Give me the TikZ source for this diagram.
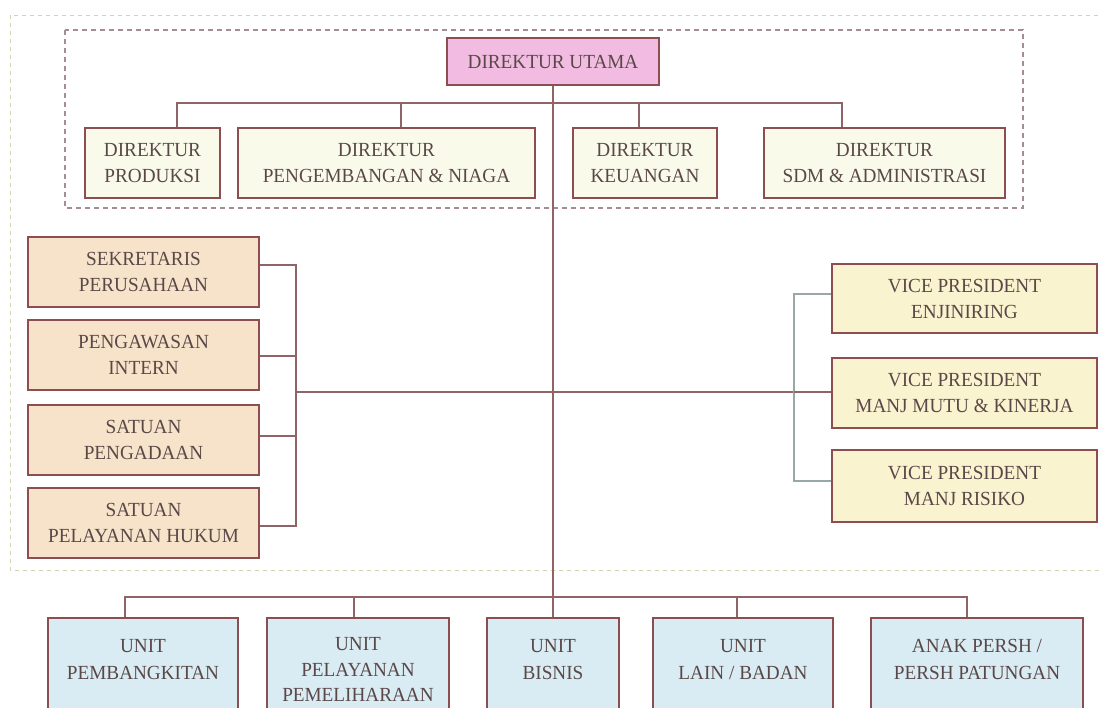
\documentclass[tikz,border=0pt]{standalone}
\usepackage{fontspec}
\setmainfont{Liberation Serif}[FakeStretch=0.96]
\definecolor{bord}{HTML}{8C4E50}
\definecolor{conn}{HTML}{8E6466}
\definecolor{connl}{HTML}{98A8A8}
\definecolor{txt}{HTML}{5A4848}
\definecolor{pinkf}{HTML}{F2BCE2}
\definecolor{creamf}{HTML}{FAFAEA}
\definecolor{peachf}{HTML}{F7E3C9}
\definecolor{yellf}{HTML}{FAF3CF}
\definecolor{bluef}{HTML}{D9ECF3}
\definecolor{outerd}{HTML}{D2D4B2}
\definecolor{innerd}{HTML}{A88A9A}
\begin{document}
\begin{tikzpicture}[x=1pt,y=-1pt,
  box/.style={draw=bord, line width=1.5pt, inner sep=0pt, align=center, text=txt,
    font=\fontsize{20}{26}\selectfont},
  dirbox/.style={box, fill=creamf, minimum height=70pt},
  leftbox/.style={box, fill=peachf, minimum width=231pt, minimum height=70pt},
  vpbox/.style={box, fill=yellf, minimum width=265pt},
  unitbox/.style={box, fill=bluef, minimum height=122pt},
  unitlbl/.style={anchor=north, yshift=-22pt, inner sep=0pt, align=center, text=txt,
    font=\fontsize{20}{27}\selectfont},
  conn/.style={draw=conn, line width=1.1pt},
  connl/.style={draw=connl, line width=1.1pt}]
\useasboundingbox (0,0) rectangle (1099,707);
\clip (0,0) rectangle (1099,707);
\fill[white] (0,0) rectangle (1099,707);

% dashed frames
\draw[outerd, line width=1pt, dash pattern=on 4pt off 4pt] (10,15) rectangle (1115,570);
\draw[innerd, line width=1.2pt, dash pattern=on 5pt off 4pt] (65,30) rectangle (1023,208);

% top
\node[box, fill=pinkf, minimum width=212pt, minimum height=47pt] (utama) at (553,61.5) {DIREKTUR UTAMA};

\node[dirbox, minimum width=135pt] (prod) at (152.5,163) {DIREKTUR\\PRODUKSI};
\node[dirbox, minimum width=297pt] (peng) at (386.5,163) {DIREKTUR\\PENGEMBANGAN \& NIAGA};
\node[dirbox, minimum width=144pt] (keu) at (645,163) {DIREKTUR\\KEUANGAN};
\node[dirbox, minimum width=241pt] (sdm) at (884.5,163) {DIREKTUR\\SDM \& ADMINISTRASI};

% left staff
\node[leftbox] (sek) at (143.5,272) {SEKRETARIS\\PERUSAHAAN};
\node[leftbox] (pgw) at (143.5,355) {PENGAWASAN\\INTERN};
\node[leftbox] (pgd) at (143.5,440) {SATUAN\\PENGADAAN};
\node[leftbox] (huk) at (143.5,523) {SATUAN\\PELAYANAN HUKUM};

% right VPs
\node[vpbox, minimum height=69pt] (vp1) at (964.5,298.5) {VICE PRESIDENT\\ENJINIRING};
\node[vpbox, minimum height=70pt] (vp2) at (964.5,393) {VICE PRESIDENT\\MANJ MUTU \& KINERJA};
\node[vpbox, minimum height=72pt] (vp3) at (964.5,486) {VICE PRESIDENT\\MANJ RISIKO};

% bottom units
\node[unitbox, minimum width=190pt, label={[unitlbl]north:{UNIT\\PEMBANGKITAN}}] (u1) at (143,679) {};
\node[unitbox, minimum width=182pt, label={[unitlbl, yshift=2pt, font=\fontsize{20}{25.5}\selectfont]north:{UNIT\\PELAYANAN\\PEMELIHARAAN}}] (u2) at (358,679) {};
\node[unitbox, minimum width=132pt, label={[unitlbl]north:{UNIT\\BISNIS}}] (u3) at (553,679) {};
\node[unitbox, minimum width=180pt, label={[unitlbl]north:{UNIT\\LAIN / BADAN}}] (u4) at (743,679) {};
\node[unitbox, minimum width=212pt, label={[unitlbl]north:{ANAK PERSH /\\PERSH PATUNGAN}}] (u5) at (977,679) {};

% connectors: directors
\coordinate (dbar) at (0,103);
\draw[conn] ([xshift=24.5pt]prod.north) -- ([xshift=24.5pt]prod.north |- dbar)
  -- ([xshift=-42.5pt]sdm.north |- dbar) -- ([xshift=-42.5pt]sdm.north);
\draw[conn] ([xshift=14.5pt]peng.north) -- ([xshift=14.5pt]peng.north |- dbar);
\draw[conn] ([xshift=-6pt]keu.north) -- ([xshift=-6pt]keu.north |- dbar);

% trunk
\draw[conn] (utama.south) -- (u3.north);

% staff brackets
\coordinate (lb) at (296,392);
\coordinate (rb) at (794,392);
\draw[conn] ([yshift=7pt]sek.east) -- ([yshift=7pt]sek.east -| lb)
  -- ([yshift=-3pt]huk.east -| lb) -- ([yshift=-3pt]huk.east);
\draw[conn] ([yshift=-1pt]pgw.east) -- ([yshift=-1pt]pgw.east -| lb);
\draw[conn] ([yshift=4pt]pgd.east) -- ([yshift=4pt]pgd.east -| lb);
\draw[conn] (lb) -- (rb);
\draw[connl] ([yshift=4.5pt]vp1.west) -- ([yshift=4.5pt]vp1.west -| rb)
  -- ([yshift=5pt]vp3.west -| rb) -- ([yshift=5pt]vp3.west);
\draw[conn] (rb) -- (vp2.west |- rb);

% units bar
\coordinate (ubar) at (0,597);
\draw[conn] ([xshift=-18pt]u1.north) -- ([xshift=-18pt]u1.north |- ubar)
  -- ([xshift=-10pt]u5.north |- ubar) -- ([xshift=-10pt]u5.north);
\draw[conn] ([xshift=-4pt]u2.north) -- ([xshift=-4pt]u2.north |- ubar);
\draw[conn] ([xshift=-6pt]u4.north) -- ([xshift=-6pt]u4.north |- ubar);
\end{tikzpicture}
\end{document}
